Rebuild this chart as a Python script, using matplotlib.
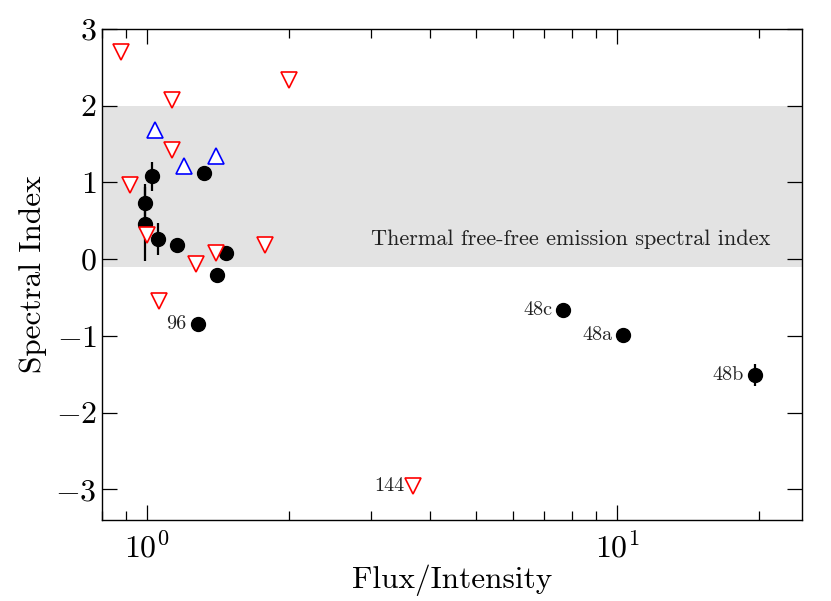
import numpy as np
import matplotlib
matplotlib.use("Agg")
import matplotlib.pyplot as plt
from matplotlib.ticker import MultipleLocator, LogLocator, NullFormatter

plt.rcParams["font.family"] = "cmr10"
plt.rcParams["mathtext.fontset"] = "cm"
plt.rcParams["axes.formatter.use_mathtext"] = True
plt.rcParams["axes.unicode_minus"] = True

# detections (black filled circles)
det_x = [1.025, 0.99, 0.99, 1.055, 1.157, 1.32, 1.47, 1.41, 1.28, 7.67, 10.3, 19.6]
det_y = [1.08, 0.73, 0.46, 0.26, 0.18, 1.12, 0.08, -0.21, -0.84, -0.66, -0.99, -1.51]
det_err = [0.19, 0.25, 0.48, 0.21, 0.0, 0.0, 0.0, 0.0, 0.0, 0.0, 0.0, 0.14]
det_names = ["", "", "", "", "", "", "", "", "96", "48c", "48a", "48b"]

# upper limits (red open down-triangles)
upper_x = [0.88, 2.0, 1.13, 1.13, 0.92, 1.0, 1.27, 1.40, 1.78, 1.06, 3.68]
upper_y = [2.70, 2.34, 2.08, 1.42, 0.96, 0.32, -0.06, 0.08, 0.19, -0.55, -2.96]
upper_names = ["", "", "", "", "", "", "", "", "", "", "144"]

# lower limits (blue open up-triangles)
lower_x = [1.04, 1.20, 1.40]
lower_y = [1.68, 1.21, 1.35]

band_lo, band_hi = -0.1, 2.0
band_label = "Thermal free-free emission spectral index"

fig = plt.figure(figsize=(8.31, 6.01), dpi=100)
ax = fig.add_axes([0.1224, 0.1348, 0.8424, 0.817])

ax.axhspan(band_lo, band_hi, color="#e3e3e3", lw=0, zorder=0)
ax.text(3.0, 0.19, band_label, fontsize=16, va="baseline", ha="left", color="#222222")

ax.errorbar(det_x, det_y, yerr=det_err, fmt="o", color="black", ms=10,
            elinewidth=1.6, capsize=0, zorder=3)
ax.plot(upper_x, upper_y, "v", ms=11, mfc="white", mec="red", mew=1.2, zorder=4)
ax.plot(lower_x, lower_y, "^", ms=11, mfc="white", mec="blue", mew=1.2, zorder=4)

for x, y, name in zip(det_x, det_y, det_names):
    if name:
        ax.annotate(name, (x, y), xytext=(-8, 0), textcoords="offset points",
                    ha="right", va="center", fontsize=14.5, color="#222222")
for x, y, name in zip(upper_x, upper_y, upper_names):
    if name:
        ax.annotate(name, (x, y), xytext=(-6, 0), textcoords="offset points",
                    ha="right", va="center", fontsize=14.5, color="#222222")

ax.set_xscale("log")
ax.set_xlim(0.80, 24.7)
ax.set_ylim(-3.4, 3.0)
ax.yaxis.set_major_locator(MultipleLocator(1))
ax.xaxis.set_minor_locator(LogLocator(base=10, subs=np.arange(2, 10)))
ax.xaxis.set_minor_formatter(NullFormatter())

ax.tick_params(which="both", direction="in", top=True, right=True, width=0.9)
ax.tick_params(which="major", length=11, labelsize=23)
ax.tick_params(axis="x", which="major", pad=8)
ax.tick_params(axis="y", which="major", pad=3.5)
ax.tick_params(which="minor", length=6.5)
for sp in ax.spines.values():
    sp.set_linewidth(1.0)

ax.set_xlabel("Flux/Intensity", fontsize=22.5, labelpad=1)
ax.set_ylabel("Spectral Index", fontsize=22.5, labelpad=6)

fig.savefig("out.png", dpi=100)
